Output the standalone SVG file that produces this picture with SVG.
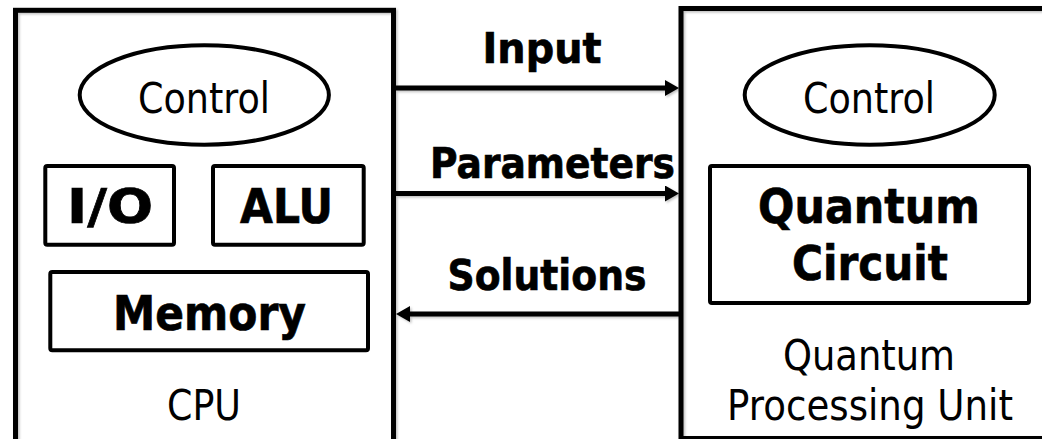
<svg xmlns="http://www.w3.org/2000/svg" width="1042" height="439" viewBox="0 0 1042 439">
  <style>
    .frame { fill: none; stroke: #000; stroke-width: 5; }
    .part { fill: #fff; stroke: #000; stroke-width: 4; }
    .wire { stroke: #000; stroke-width: 5; fill: none; }
    .reg { font-family: "DejaVu Sans", "Liberation Sans", sans-serif; font-size: 43px; fill: #000; text-anchor: middle; }
    .bold { font-family: "DejaVu Sans", "Liberation Sans", sans-serif; font-weight: bold; fill: #000; stroke: #000; stroke-width: 0.7; text-anchor: middle; }
    .big { font-size: 48px; }
    .lbl { font-size: 42px; }
  </style>
  <defs>
    <filter id="shade" x="-5%" y="-5%" width="110%" height="110%">
      <feDropShadow dx="1.5" dy="1.5" stdDeviation="1.2" flood-color="#000" flood-opacity="0.25"/>
    </filter>
    <marker id="head" markerUnits="userSpaceOnUse" markerWidth="16" markerHeight="18" refX="2" refY="8" orient="auto">
      <path d="M0,0 L14,8 L0,16 z" fill="#000"/>
    </marker>
  </defs>

  <rect width="1042" height="439" fill="#fff"/>

  <!-- Classical processor -->
  <g id="cpu">
    <rect class="frame" x="15.5" y="10.3" width="378" height="500" filter="url(#shade)"/>
    <text class="reg" x="204" y="420" textLength="74" lengthAdjust="spacingAndGlyphs">CPU</text>
  </g>
  <g id="cpu-control">
    <ellipse class="part" cx="204.3" cy="95" rx="124.6" ry="49.7"/>
    <text class="reg" x="204" y="113" textLength="132" lengthAdjust="spacingAndGlyphs">Control</text>
  </g>
  <g id="io">
    <rect class="part" x="45.3" y="166" width="128.7" height="78.7" rx="2"/>
    <text class="bold big" x="110" y="223" textLength="86" lengthAdjust="spacingAndGlyphs">I/O</text>
  </g>
  <g id="alu">
    <rect class="part" x="213" y="166" width="150.7" height="78.7" rx="2"/>
    <text class="bold big" x="286.5" y="223" textLength="93" lengthAdjust="spacingAndGlyphs">ALU</text>
  </g>
  <g id="memory">
    <rect class="part" x="50.3" y="272" width="317.7" height="78.3" rx="2"/>
    <text class="bold big" x="209.5" y="330" textLength="193" lengthAdjust="spacingAndGlyphs">Memory</text>
  </g>

  <!-- Quantum processor -->
  <g id="qpu">
    <rect class="frame" x="681" y="8.5" width="400" height="430" filter="url(#shade)"/>
    <text class="reg" x="869" y="370" textLength="172" lengthAdjust="spacingAndGlyphs">Quantum</text>
    <text class="reg" x="870" y="420" textLength="286" lengthAdjust="spacingAndGlyphs">Processing Unit</text>
  </g>
  <g id="qpu-control">
    <ellipse class="part" cx="869.7" cy="95" rx="125" ry="49.7"/>
    <text class="reg" x="869" y="113" textLength="132" lengthAdjust="spacingAndGlyphs">Control</text>
  </g>
  <g id="circuit">
    <rect class="part" x="710" y="166" width="319" height="137" rx="2"/>
    <text class="bold big" x="869" y="223" textLength="222" lengthAdjust="spacingAndGlyphs">Quantum</text>
    <text class="bold big" x="870" y="280" textLength="156" lengthAdjust="spacingAndGlyphs">Circuit</text>
  </g>

  <!-- Data flow between the two units -->
  <g id="connectors" filter="url(#shade)">
    <line class="wire" x1="396" y1="88" x2="667" y2="88" marker-end="url(#head)"/>
    <line class="wire" x1="396" y1="193.5" x2="667" y2="193.5" marker-end="url(#head)"/>
    <line class="wire" x1="679" y1="314" x2="408" y2="314" marker-end="url(#head)"/>
  </g>
  <g id="labels">
    <text class="bold lbl" x="542" y="63" textLength="119" lengthAdjust="spacingAndGlyphs">Input</text>
    <text class="bold lbl" x="552.5" y="178" textLength="245" lengthAdjust="spacingAndGlyphs">Parameters</text>
    <text class="bold lbl" x="547" y="290" textLength="199" lengthAdjust="spacingAndGlyphs">Solutions</text>
  </g>
</svg>
